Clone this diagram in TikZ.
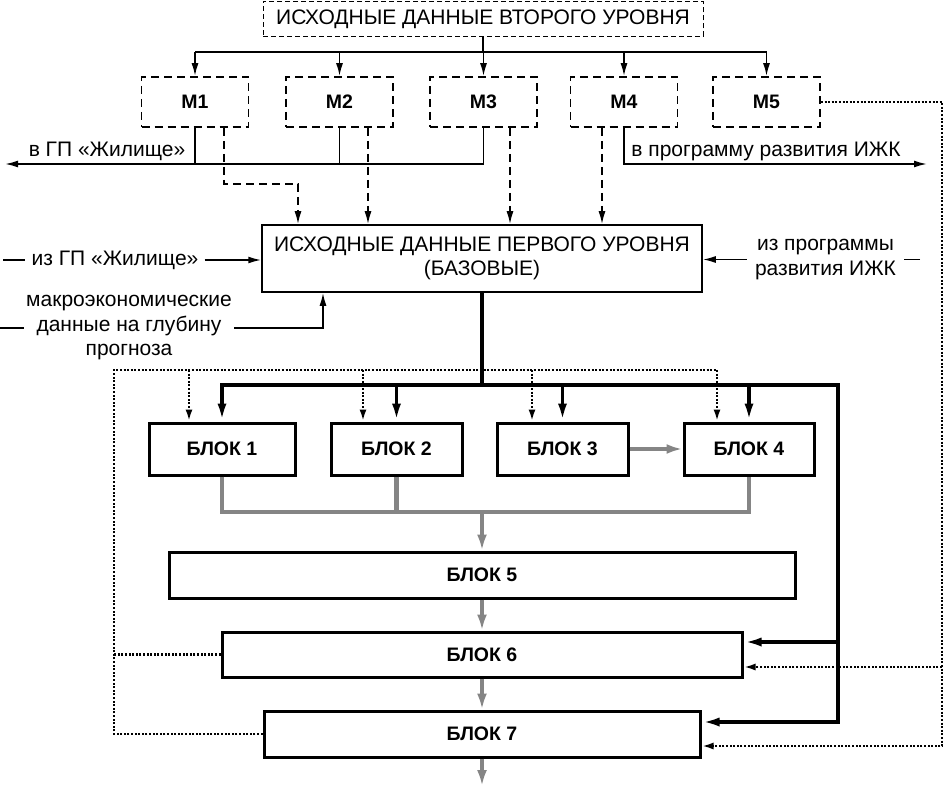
\documentclass[tikz,border=0pt]{standalone}
\usepackage{fontspec}
\setmainfont{Liberation Sans}
\usetikzlibrary{arrows.meta,positioning,calc}

\begin{document}
\begin{tikzpicture}[x=1pt, y=-1pt,
    font=\fontsize{21}{24.5}\selectfont,
    srcbox/.style={rectangle, draw, line width=0.8pt, dash pattern=on 5pt off 3pt, minimum width=440pt, minimum height=35pt, inner sep=0pt},
    modbox/.style={rectangle, draw, line width=1.8pt, dash pattern=on 8pt off 5pt, minimum width=107pt, minimum height=50pt, inner sep=0pt, font=\fontsize{19.5}{22}\selectfont\bfseries},
    basebox/.style={rectangle, draw, line width=1.5pt, minimum width=440pt, minimum height=67pt, align=center, inner sep=0pt},
    blk/.style={rectangle, draw, line width=3pt, minimum height=52pt, inner sep=0pt, font=\fontsize{19.5}{22}\selectfont\bfseries},
    lbl/.style={inner xsep=6pt, inner ysep=1pt, align=center},
    link/.style={draw, line width=1.7pt},
    arrow/.style={link, -{Latex[length=13pt,width=7pt]}},
    dlink/.style={arrow, dash pattern=on 8pt off 5pt},
    bus/.style={draw, line width=3.5pt},
    busarrow/.style={bus, -{Latex[length=18pt,width=9pt]}},
    flow/.style={draw, black!48, line width=4.5pt},
    flowarrow/.style={flow, -{Latex[length=16pt,width=10pt]}},
    fb/.style={draw, line width=2.6pt, dash pattern=on 2pt off 1.6pt},
    fbarrow/.style={fb, -{Latex[length=12pt,width=7pt]}}
]
    \useasboundingbox (0,0) rectangle (944,786);
    % second level data and models
    \node[srcbox] (src) at (483,19) {ИСХОДНЫЕ ДАННЫЕ ВТОРОГО УРОВНЯ};
    \node[modbox] (m1) at (195,102) {М1};
    \node[modbox] (m2) at (339.5,102) {М2};
    \node[modbox] (m3) at (483.5,102) {М3};
    \node[modbox] (m4) at (624,102) {М4};
    \node[modbox] (m5) at (766.5,102) {М5};
    \node[anchor=base] (togp) at (107,157) {в ГП «Жилище»};
    \node[anchor=base] (toijk) at (766,157) {в программу развития ИЖК};
    % first level data
    \node[basebox] (base) at (482,258.5) {ИСХОДНЫЕ ДАННЫЕ ПЕРВОГО УРОВНЯ\\(БАЗОВЫЕ)};
    \node[lbl] (fromgp) at (115,260) {из ГП «Жилище»};
    \node[lbl, inner xsep=2pt] (macro) at (129,328) {макроэкономические\\данные на глубину\\прогноза};
    \node[lbl, inner xsep=8pt] (fromijk) at (825.5,259.5) {из программы\\развития ИЖК};
    % blocks
    \node[blk, minimum width=146pt] (b1) at (222,449) {БЛОК 1};
    \node[blk, minimum width=131pt] (b2) at (396.5,449) {БЛОК 2};
    \node[blk, minimum width=131pt] (b3) at (562.5,449) {БЛОК 3};
    \node[blk, minimum width=130pt] (b4) at (749,449) {БЛОК 4};
    \node[blk, minimum width=626pt, minimum height=46pt] (b5) at (482,575) {БЛОК 5};
    \node[blk, minimum width=520pt, minimum height=45pt] (b6) at (482,654.5) {БЛОК 6};
    \node[blk, minimum width=436pt, minimum height=46pt] (b7) at (482,734) {БЛОК 7};

    \coordinate (bus2) at (483,52);
    \coordinate (outgp) at (5,164);
    \coordinate (outijk) at (927,164);
    \coordinate (ingp) at (3,260);
    \coordinate (inmac) at (0,328);
    \coordinate (inijk) at (920,259.5);
    \coordinate (hub) at (482,385);
    \coordinate (rc) at (838,385);
    \coordinate (gj) at (482,512);
    \coordinate (fl) at (114,370);
    \coordinate (f1) at (189,370);
    \coordinate (f2) at (363,370);
    \coordinate (f3) at (532,370);
    \coordinate (f4) at (717,370);
    \coordinate (fr) at (942,0);
    \coordinate (out) at (482,786);
    \coordinate (t6) at ($(b6.east)+(0,-12.5)$);
    \coordinate (t7) at ($(b7.east)+(0,-12)$);
    \coordinate (d6) at ($(b6.east)+(0,12.5)$);
    \coordinate (d7) at ($(b7.east)+(0,12)$);

    % top distribution
    \draw[link] (src) -- (bus2);
    \draw[link] (m1 |- bus2) -- (m5 |- bus2);
    \draw[arrow] (m1 |- bus2) -- (m1);
    \draw[arrow] (m2 |- bus2) -- (m2);
    \draw[arrow] (m3 |- bus2) -- (m3);
    \draw[arrow] (m4 |- bus2) -- (m4);
    \draw[arrow] (m5 |- bus2) -- (m5);
    \draw[link] (m1) -- (m1 |- outgp);
    \draw[link] (m2) -- (m2 |- outgp);
    \draw[arrow] (m3) |- (outgp);
    \draw[arrow] (m4) |- (outijk);
    \draw[dlink] ($(m1.south)+(29,0)$) -- ++(0,56) -| ($(base.north)+(-184,0)$);
    \draw[dlink] ($(m2.south)+(28.5,0)$) -- ($(base.north)+(-114,0)$);
    \draw[dlink] ($(m3.south)+(26.5,0)$) -- ($(base.north)+(28,0)$);
    \draw[dlink] ($(m4.south)+(-22,0)$) -- ($(base.north)+(120,0)$);
    % side inputs
    \draw[link] (ingp) -- (fromgp);
    \draw[arrow] (fromgp) -- (fromgp -| base.west);
    \draw[link] (inmac) -- (macro);
    \draw[arrow] (macro) -| ($(base.south)+(-159,0)$);
    \draw[link] (inijk) -- (fromijk);
    \draw[arrow] (fromijk) -- (fromijk -| base.east);
    % base data to blocks
    \draw[bus] (base) -- (hub);
    \draw[busarrow] (hub) -| (b1);
    \draw[busarrow] (hub) -| (b2);
    \draw[busarrow] (hub) -| (b3);
    \draw[busarrow] (hub) -| (b4);
    \draw[busarrow] (hub) -- (rc) |- (t7);
    \draw[busarrow] (rc |- t6) -- (t6);
    % block chain
    \draw[flow] (b1) |- (b4 |- gj) -- (b4);
    \draw[flow] (b2) -- (b2 |- gj);
    \draw[flowarrow] (gj) -- (b5);
    \draw[flowarrow] (b3) -- (b4);
    \draw[flowarrow] (b5) -- (b6);
    \draw[flowarrow] (b6) -- (b7);
    \draw[flowarrow] (b7) -- (out);
    % feedback
    \draw[fb] (b7) -| (fl) -- (f4);
    \draw[fb] (b6) -- (b6 -| fl);
    \draw[fbarrow] (f1) -- (f1 |- b1.north);
    \draw[fbarrow] (f2) -- (f2 |- b2.north);
    \draw[fbarrow] (f3) -- (f3 |- b3.north);
    \draw[fbarrow] (f4) -- (f4 |- b4.north);
    \draw[fbarrow] (m5) -| (fr |- d7) -- (d7);
    \draw[fbarrow] (fr |- d6) -- (d6);
\end{tikzpicture}
\end{document}
